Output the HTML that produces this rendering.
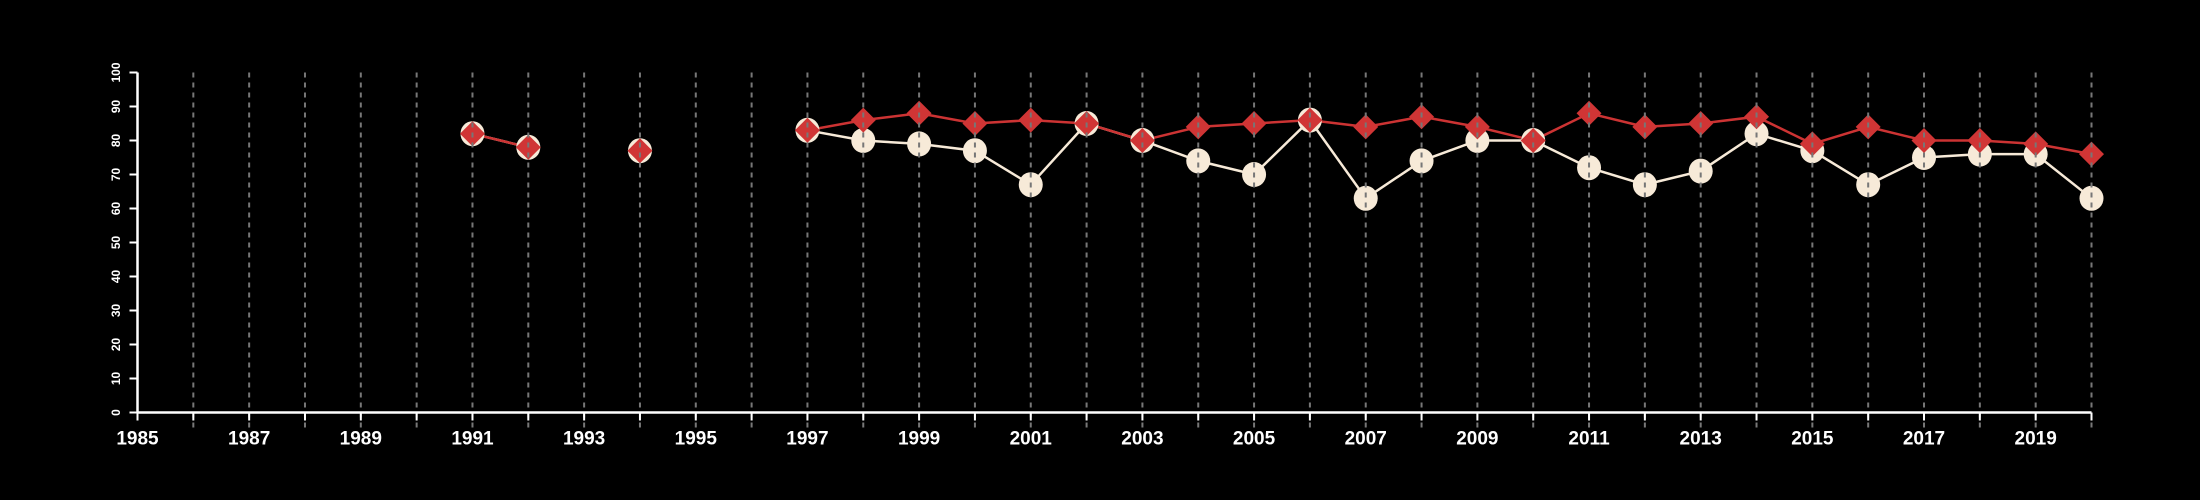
<!DOCTYPE html>
<html><head><meta charset="utf-8"><style>
html,body{margin:0;padding:0;background:#000;}
svg{display:block;font-family:"Liberation Sans",sans-serif;}
</style></head><body>
<svg id="chart" width="2200" height="500" viewBox="0 0 2200 500">
<rect x="0" y="0" width="2200" height="500" fill="#000"/>
<g id="grid"></g><g id="lines"></g><g id="marks"></g><g id="grid2"></g><g id="axes"></g>
</svg>
<script>
const years = [1991,1992,1994,1997,1998,1999,2000,2001,2002,2003,2004,2005,2006,2007,2008,2009,2010,2011,2012,2013,2014,2015,2016,2017,2018,2019,2020];
const whiteSeries = [82,78,77,83,80,79,77,67,85,80,74,70,86,63,74,80,80,72,67,71,82,77,67,75,76,76,63];
const redSeries   = [82,78,77,83,86,88,85,86,85,80,84,85,86,84,87,84,80,88,84,85,87,79,84,80,80,79,76];
const yTicks = [0,10,20,30,40,50,60,70,80,90,100];
const xLabelYears = [1985,1987,1989,1991,1993,1995,1997,1999,2001,2003,2005,2007,2009,2011,2013,2015,2017,2019];
const xMin=1985,xMax=2020,yMin=0,yMax=100;
const X0=137.5,X1=2091.5,Y0=412.5,Y1=72.5;
const sx=v=>X0+(v-xMin)/(xMax-xMin)*(X1-X0);
const sy=v=>Y0-(v-yMin)/(yMax-yMin)*(Y0-Y1);
const NS="http://www.w3.org/2000/svg";
function mk(tag,parent,attrs){const e=document.createElementNS(NS,tag);for(const k in attrs)e.setAttribute(k,attrs[k]);parent.appendChild(e);return e;}
const grid=document.getElementById('grid'),lines=document.getElementById('lines'),marks=document.getElementById('marks'),grid2=document.getElementById('grid2'),axes=document.getElementById('axes');
for(let y=xMin+1;y<=xMax;y++){
  const l=mk('line',grid2,{x1:sx(y),x2:sx(y),y1:Y1,y2:Y0+20,stroke:'#777','stroke-width':2,'stroke-dasharray':'5,5'});
  
  
}
function drawLine(vals,color,name){
  let seg=[];
  const flush=()=>{if(seg.length>1){const p=mk('polyline',lines,{points:seg.join(' '),fill:'none',stroke:color,'stroke-width':2.5});
    
    }seg=[];};
  for(let i=0;i<years.length;i++){
    if(i>0&&years[i]-years[i-1]>1)flush();
    seg.push(sx(years[i])+','+sy(vals[i]));
  }
  flush();
}
drawLine(whiteSeries,'#f7ead8','white-series');
drawLine(redSeries,'#cc3333','red-series');
for(let i=0;i<years.length;i++){
  const c=mk('ellipse',marks,{cx:sx(years[i]),cy:sy(whiteSeries[i]),rx:12,ry:12.5,fill:'#f7ead8'});
  
  
}
for(let i=0;i<years.length;i++){
  const x=sx(years[i]),y=sy(redSeries[i]),r=12.5;
  const d=mk('polygon',marks,{points:`${x},${y-r} ${x+r},${y} ${x},${y+r} ${x-r},${y}`,fill:'#d03535'});
  
  
}
const xa=mk('line',axes,{x1:X0,x2:X1,y1:Y0,y2:Y0,stroke:'#fff','stroke-width':2.5});


const ya=mk('line',axes,{x1:X0,x2:X0,y1:Y0,y2:Y1,stroke:'#fff','stroke-width':2.5});


for(let y=xMin;y<=xMax;y++){
  const t=mk('line',axes,{x1:sx(y),x2:sx(y),y1:Y0,y2:Y0+8,stroke:'#fff','stroke-width':2});
  
  
}
for(const y of xLabelYears){
  const t=mk('text',axes,{x:sx(y),y:Y0+32,fill:'#fff','font-size':19,'font-weight':'bold','text-anchor':'middle'});
  t.textContent=y;
  
  
}
for(const v of yTicks){
  const t=mk('line',axes,{x1:X0-8,x2:X0,y1:sy(v),y2:sy(v),stroke:'#fff','stroke-width':2});
  
  
  const lb=mk('text',axes,{x:0,y:0,fill:'#fff','font-size':12,'font-weight':'bold','text-anchor':'middle',transform:`translate(120,${sy(v)}) rotate(-90)`});
  lb.textContent=v;
  
  
}
</script>
</body></html>
